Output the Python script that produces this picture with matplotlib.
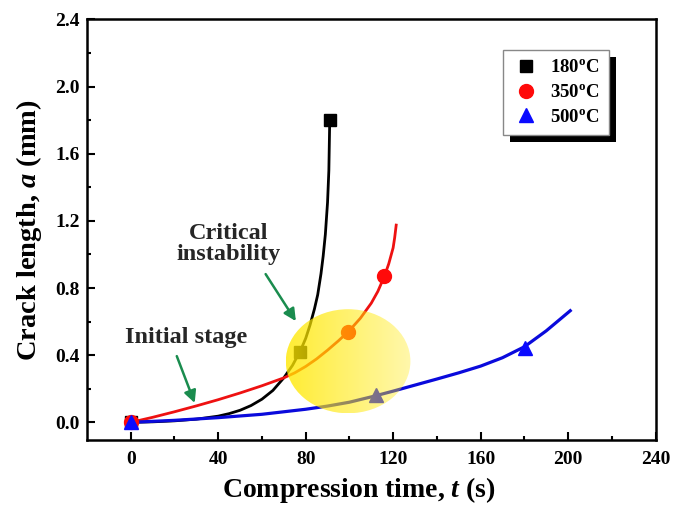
import numpy as np
import matplotlib
matplotlib.use("Agg")
import matplotlib.pyplot as plt
from matplotlib.patches import Ellipse, Rectangle
from matplotlib.transforms import IdentityTransform

plt.rcParams['font.family'] = ['Liberation Serif', 'DejaVu Serif']
plt.rcParams['font.weight'] = 'bold'
plt.rcParams['axes.labelweight'] = 'bold'
plt.rcParams['mathtext.fontset'] = 'custom'
plt.rcParams['mathtext.rm'] = 'Liberation Serif:bold'
plt.rcParams['mathtext.it'] = 'Liberation Serif:bold:italic'

# measured points
t_180 = [0, 77.5, 91]
a_180 = [0, 0.42, 1.80]
t_350 = [0, 99.5, 116]
a_350 = [0, 0.54, 0.87]
t_500 = [0, 112, 180.5]
a_500 = [0, 0.16, 0.44]

# fitted curves
fit_t_180 = [0, 10, 20, 30, 40, 45, 50, 55, 60, 65, 70, 74, 77.7, 80, 82, 84, 85.5, 87, 88, 89, 90, 90.6, 91]
fit_a_180 = [0, 0.003, 0.009, 0.019, 0.037, 0.052, 0.072, 0.10, 0.138, 0.19, 0.265, 0.34, 0.43, 0.50, 0.58, 0.675, 0.76, 0.885, 0.99, 1.12, 1.31, 1.5, 1.8]
fit_t_350 = [0, 10, 20, 30, 40, 50, 60, 70, 75, 80, 85, 90, 95, 100, 105, 110, 113, 116, 118, 120, 120.7, 121.4]
fit_a_350 = [0, 0.03, 0.063, 0.098, 0.135, 0.175, 0.218, 0.265, 0.295, 0.333, 0.378, 0.43, 0.486, 0.547, 0.62, 0.71, 0.78, 0.87, 0.945, 1.04, 1.1, 1.175]
fit_t_500 = [0, 20, 40, 60, 80, 90, 100, 111, 120, 130, 140, 150, 160, 170, 180, 190, 201]
fit_a_500 = [0, 0.012, 0.028, 0.048, 0.078, 0.097, 0.12, 0.155, 0.186, 0.222, 0.258, 0.295, 0.335, 0.385, 0.45, 0.545, 0.665]

labels = ['180$^\\mathrm{o}$C', '350$^\\mathrm{o}$C', '500$^\\mathrm{o}$C']

fig = plt.figure(figsize=(6.74, 5.08), dpi=100)
ax = fig.add_axes([0.1291, 0.1339, 0.8435, 0.8278])

# fit lines
ax.plot(fit_t_180, fit_a_180, color='black', lw=2.0, zorder=2, solid_joinstyle='round')
ax.plot(fit_t_350, fit_a_350, color='#ee1111', lw=2.0, zorder=2, solid_joinstyle='round')
ax.plot(fit_t_500, fit_a_500, color='#0a0adc', lw=2.3, zorder=2, solid_joinstyle='round')

# markers
ax.plot(t_180, a_180, 's', color='black', ms=8.5, ls='none', zorder=2.5, label=labels[0])
ax.plot(t_350, a_350, 'o', color='#ff0a0a', ms=10, ls='none', zorder=2.6, label=labels[1])
ax.plot(t_500, a_500, '^', color='#0a0aff', ms=10.5, ls='none', zorder=2.7, label=labels[2])

# yellow highlight, fading to the right
ell = Ellipse((99.4, 0.364), 57, 0.62, transform=ax.transData, facecolor='none', edgecolor='none')
ax.add_patch(ell)
grad = np.zeros((1, 256, 4))
grad[..., 0] = 1.0
grad[..., 1] = 0.91
grad[..., 2] = 0.0
grad[..., 3] = np.linspace(0.8, 0.33, 256)
im = ax.imshow(grad, extent=[99.4 - 28.5, 99.4 + 28.5, 0.364 - 0.31, 0.364 + 0.31],
               aspect='auto', zorder=3, interpolation='bilinear')
im.set_clip_path(ell)

# annotations
green = '#1a8c4e'
ax.annotate('', xy=(76.2, 0.589), xytext=(61, 0.897),
            arrowprops=dict(arrowstyle='-|>', color=green, lw=1.8, mutation_scale=18), zorder=4)
ax.annotate('', xy=(29.7, 0.10), xytext=(20.6, 0.41),
            arrowprops=dict(arrowstyle='-|>', color=green, lw=1.8, mutation_scale=18), zorder=4)
ax.text(44.8, 1.06, 'Critical\ninstability', ha='center', va='center', fontsize=17.5,
        color='#262626', linespacing=1.0, zorder=4)
ax.text(25.4, 0.506, 'Initial stage', ha='center', va='center', fontsize=17.5,
        color='#262626', zorder=4)

ax.set_xlim(-20, 240)
ax.set_ylim(-0.105, 2.4)
ax.set_xticks(np.arange(0, 241, 40))
ax.set_xticks(np.arange(0, 241, 20), minor=True)
ax.set_yticks(np.arange(0, 2.41, 0.4))
ax.set_yticks(np.arange(0, 2.41, 0.2), minor=True)
ax.set_yticklabels(['%.1f' % v for v in np.arange(0, 2.41, 0.4)])
ax.tick_params(which='both', direction='in', top=False, right=False, labelsize=14, width=1.5)
ax.tick_params(axis='x', which='major', length=6, pad=8)
ax.tick_params(axis='y', which='major', length=6, pad=5)
ax.tick_params(which='minor', length=3)
for s in ax.spines.values():
    s.set_linewidth(1.8)

ax.set_xlabel('Compression time, $\\mathit{t}$ (s)', fontsize=20)
ax.set_ylabel('Crack length, $\\mathit{a}$ (mm)', fontsize=20.5, labelpad=8)
ax.xaxis.set_label_coords(0.479, -0.083)

leg = ax.legend(loc='upper left', bbox_to_anchor=(0.732, 0.9275), borderaxespad=0,
                fontsize=13.5, fancybox=False, framealpha=1, edgecolor='#888888',
                handletextpad=0.6, labelspacing=0.4, borderpad=0.5, handlelength=1.4)
leg.get_frame().set_linewidth(1.0)
leg.set_zorder(6)

# black drop shadow behind the legend
fig.canvas.draw()
bb = leg.get_frame().get_window_extent()
shadow = Rectangle((bb.x0 + 7, bb.y0 - 7), bb.width, bb.height, transform=IdentityTransform(),
                   facecolor='black', edgecolor='none', zorder=5.5)
ax.add_artist(shadow)

fig.savefig('out.png', dpi=100)
